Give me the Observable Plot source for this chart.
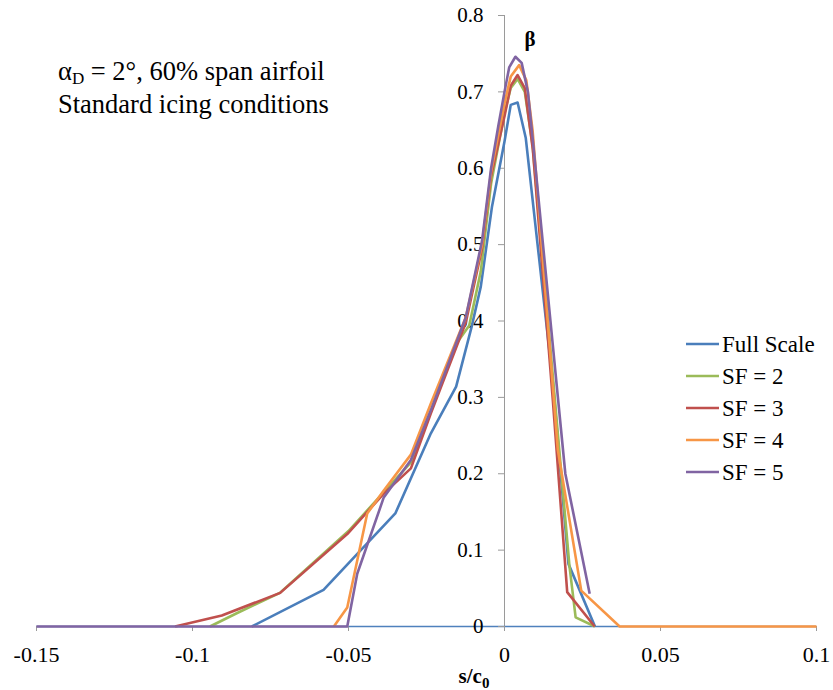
<!DOCTYPE html>
<html>
<head>
<meta charset="utf-8">
<script src="https://cdn.jsdelivr.net/npm/d3@7"></script>
<script src="https://cdn.jsdelivr.net/npm/@observablehq/plot@0.6"></script>
<style>
  html, body { margin: 0; padding: 0; background: #fff; }
  #chart svg { display: block; }
  #chart svg text { font-family: "Liberation Serif", "Times New Roman", Times, Tinos, "Noto Serif", "DejaVu Serif", serif !important; }
</style>
</head>
<body>
<div id="chart"></div>
<script>
// ---- Data ----
const xTicks = [-0.15, -0.1, -0.05, 0, 0.05, 0.1];
const xTickLabels = ["-0.15", "-0.1", "-0.05", "0", "0.05", "0.1"];
const yTicks = [0, 0.1, 0.2, 0.3, 0.4, 0.5, 0.6, 0.7, 0.8];
const yTickLabels = ["0", "0.1", "0.2", "0.3", "0.4", "0.5", "0.6", "0.7", "0.8"];

const seriesNames = ["Full Scale", "SF = 2", "SF = 3", "SF = 4", "SF = 5"];
const seriesColors = ["#4a7ebb", "#9bbb59", "#c0504d", "#f79646", "#8064a2"];

// [s/c0, beta]
const fullScale = [
  [-0.081, 0], [-0.058, 0.048], [-0.035, 0.148], [-0.0236, 0.253], [-0.0155, 0.314],
  [-0.0105, 0.393], [-0.0076, 0.445], [-0.004, 0.55], [0, 0.635], [0.002, 0.683], [0.0042, 0.686],
  [0.0068, 0.64], [0.0155, 0.32], [0.0205, 0.082], [0.029, 0]
];
const sf2 = [
  [-0.0944, 0], [-0.086, 0.017], [-0.072, 0.044], [-0.05, 0.125], [-0.03, 0.215],
  [-0.0236, 0.282], [-0.0155, 0.37], [-0.0113, 0.394], [-0.0076, 0.465], [-0.0043, 0.58],
  [0, 0.672], [0.002, 0.705], [0.0042, 0.717], [0.0065, 0.70], [0.009, 0.63],
  [0.0208, 0.08], [0.0228, 0.012], [0.029, 0]
];
const sf3 = [
  [-0.1056, 0], [-0.0906, 0.0144], [-0.0719, 0.044], [-0.0504, 0.121], [-0.0387, 0.174],
  [-0.030, 0.207], [-0.0236, 0.279], [-0.0124, 0.398], [-0.0072, 0.495], [-0.0043, 0.59],
  [0, 0.668], [0.002, 0.708], [0.0042, 0.722], [0.0065, 0.705], [0.0091, 0.624],
  [0.0155, 0.296], [0.0201, 0.045], [0.0289, 0]
];
const sf4 = [
  [-0.0547, 0], [-0.0504, 0.025], [-0.044, 0.148], [-0.0387, 0.178], [-0.030, 0.225],
  [-0.0236, 0.292], [-0.0124, 0.405], [-0.0072, 0.50], [-0.0043, 0.595], [0, 0.685],
  [0.002, 0.72], [0.0047, 0.735], [0.007, 0.715], [0.009, 0.65],
  [0.0171, 0.231], [0.0246, 0.047], [0.0369, 0], [0.1, 0]
];
const sf5 = [
  [-0.15, 0], [-0.0504, 0], [-0.0472, 0.069], [-0.0387, 0.169], [-0.030, 0.218],
  [-0.0236, 0.283], [-0.0124, 0.405], [-0.0072, 0.505], [-0.0043, 0.6], [-0.002, 0.655],
  [0, 0.70], [0.0015, 0.732], [0.0035, 0.746], [0.0055, 0.738], [0.0075, 0.70], [0.009, 0.64],
  [0.0195, 0.2], [0.0273, 0.043]
];

const seriesData = [fullScale, sf2, sf3, sf4, sf5];
const rows = seriesData.flatMap((pts, i) =>
  pts.map(([s, b]) => ({series: seriesNames[i], s, b}))
);

const W = 833, H = 690;
const mL = 36, mR = 17, mT = 15, mB = 64;
// pixel offset that moves the y axis onto x = 0
const x0px = mL + (0 - (-0.15)) / (0.1 - (-0.15)) * (W - mL - mR);
const serif = "'Liberation Serif', 'Times New Roman', serif";

const chart = Plot.plot({
  width: W,
  height: H,
  marginLeft: mL,
  marginRight: mR,
  marginTop: mT,
  marginBottom: mB,
  style: {fontFamily: serif, fontSize: "21px", color: "#000", background: "#fff"},
  x: {domain: [-0.15, 0.1]},
  y: {domain: [0, 0.8]},
  color: {domain: seriesNames, range: seriesColors},
  marks: [
    Plot.ruleX([0], {y1: 0, y2: 0.8, stroke: "#9a9a9a", strokeWidth: 1}),
    Plot.ruleY([0], {stroke: "#4f81bd", strokeWidth: 1.5}),
    Plot.axisX({
      ticks: xTicks,
      tickFormat: d => xTickLabels[xTicks.indexOf(d)],
      tickSize: 5,
      tickPadding: 15,
      fontSize: 22,
      stroke: "#9a9a9a",
      fill: "#000",
      label: null
    }),
    Plot.axisY({
      anchor: "left",
      ticks: yTicks,
      tickFormat: d => yTickLabels[yTicks.indexOf(d)],
      tickSize: 6,
      tickPadding: 15,
      dx: x0px - mL,
      stroke: "#9a9a9a",
      fill: "#000",
      label: null
    }),
    Plot.line(rows, {
      x: "s", y: "b", z: "series", stroke: "series",
      strokeWidth: 2.6, strokeLinejoin: "round", strokeLinecap: "butt"
    })
  ]
});

document.getElementById("chart").appendChild(chart);

// ---- Text annotations, axis title and legend ----
const svg = d3.select(chart);

function addText(x, y, size, anchor) {
  return svg.append("text")
    .attr("x", x).attr("y", y)
    .attr("text-anchor", anchor)
    .style("font-size", size + "px")
    .attr("fill", "#000");
}

// beta label
addText(530, 46, 21, "middle").attr("font-weight", "bold").text("β");

// x-axis title s/c0
const xt = addText(474, 683, 21, "middle").attr("font-weight", "bold");
xt.append("tspan").text("s/c");
xt.append("tspan").style("font-size", "15px").attr("dy", 5).text("0");

// condition annotation
const a1 = addText(58, 80, 26.5, "start");
a1.append("tspan").text("α");
a1.append("tspan").style("font-size", "17px").attr("dy", 4).text("D");
a1.append("tspan").attr("dy", -4).text(" = 2°, 60% span airfoil");
addText(58, 113, 26.5, "start").text("Standard icing conditions");

// legend
const legY = [344, 376, 408, 440, 472];
seriesNames.forEach((name, i) => {
  svg.append("line")
    .attr("x1", 686).attr("x2", 719)
    .attr("y1", legY[i]).attr("y2", legY[i])
    .attr("stroke", seriesColors[i]).attr("stroke-width", 2.6);
  addText(722, legY[i] + 7.5, 23, "start").text(name);
});
</script>
</body>
</html>
